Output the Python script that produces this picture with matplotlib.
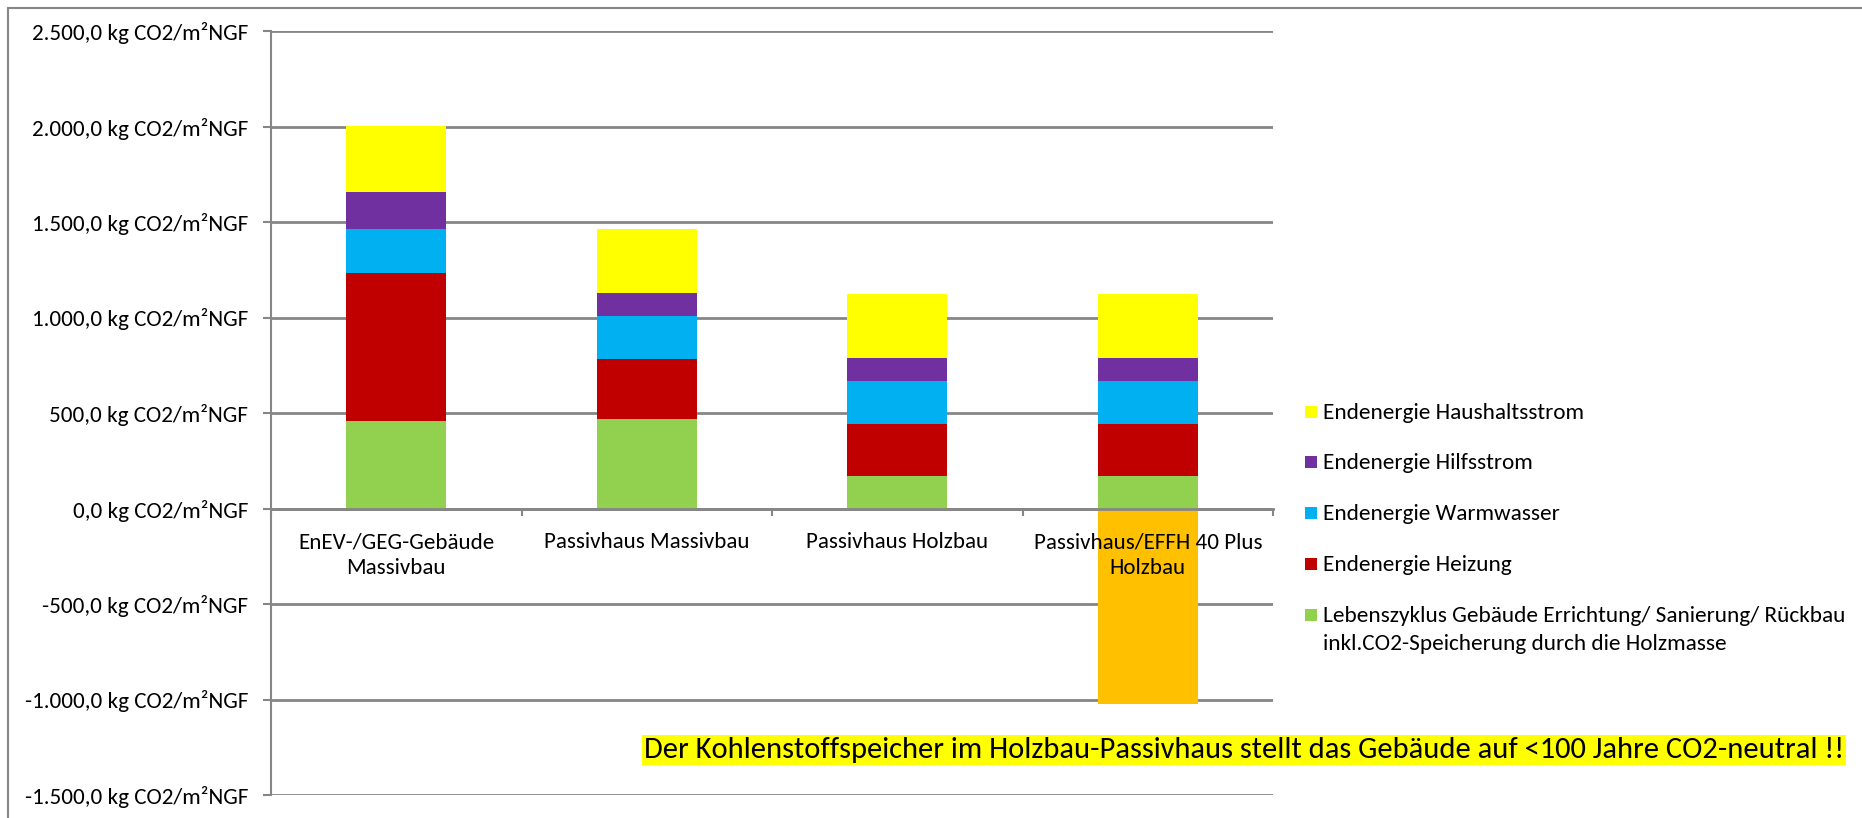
import matplotlib
matplotlib.use("Agg")
import matplotlib.pyplot as plt
from matplotlib import font_manager
from matplotlib.font_manager import FontProperties
from matplotlib.patches import Rectangle
import numpy as np

categories = ["EnEV-/GEG-Gebäude\nMassivbau", "Passivhaus Massivbau",
              "Passivhaus Holzbau", "Passivhaus/EFFH 40 Plus\nHolzbau"]
lebenszyklus = [458, 468, 168, 168]
heizung = [777, 314, 272, 272]
warmwasser = [230, 228, 228, 228]
hilfsstrom = [194, 120, 120, 120]
haushaltsstrom = [341, 335, 335, 335]
co2_speicher = [0, 0, 0, -1025]
series_names = ["Lebenszyklus Gebäude Errichtung/ Sanierung/ Rückbau\ninkl.CO2-Speicherung durch die Holzmasse",
                "Endenergie Heizung", "Endenergie Warmwasser",
                "Endenergie Hilfsstrom", "Endenergie Haushaltsstrom"]
yticks = [-1500, -1000, -500, 0, 500, 1000, 1500, 2000, 2500]
banner = "Der Kohlenstoffspeicher im Holzbau-Passivhaus stellt das Gebäude auf <100 Jahre CO2-neutral !!"

colors = ["#92D050", "#C00000", "#00B0F0", "#7030A0", "#FFFF00"]
orange = "#FFC000"
grey = "#868686"

avail = {f.name for f in font_manager.fontManager.ttflist}
def pick(*names):
    for n in names:
        if n in avail:
            return n
    return "DejaVu Sans"
base_font = pick("Carlito", "Lato", "Open Sans")

def fmt(v):
    s = f"{abs(v):,.1f}".replace(",", "X").replace(".", ",").replace("X", ".")
    return ("-" if v < 0 else "") + s + " kg CO2/m²NGF"

W, H = 1862, 818
fig = plt.figure(figsize=(W/100, H/100), dpi=100)
renderer = fig.canvas.get_renderer()

def metrics(s, size):
    return renderer.get_text_width_height_descent(s, FontProperties(family=base_font, size=size), ismath=False)

def fit(s, target_px):
    return 20.0 * target_px / metrics(s, 20.0)[0]

def linespacing_for(size, step_px):
    _, h, d = metrics("lp", size)
    return (step_px - d) / (h - d)

tick_size = fit(fmt(2500), 217)
cat_size = fit("Passivhaus Massivbau", 205)
leg_size = fit("Endenergie Haushaltsstrom", 260)
ban_size = fit(banner, 1198)

ax = fig.add_axes([271/W, 1-795/H, (1273-271)/W, (795-31)/H])

x = np.arange(len(categories))
stack = [lebenszyklus, heizung, warmwasser, hilfsstrom, haushaltsstrom]
bottom = np.zeros(len(categories))
for vals, c in zip(stack, colors):
    ax.bar(x, vals, width=0.4, bottom=bottom, color=c, zorder=3)
    bottom += np.array(vals)
ax.bar(x, co2_speicher, width=0.4, color=orange, zorder=3)

ax.set_xlim(-0.5, len(categories) - 0.5)
ax.set_ylim(yticks[0], yticks[-1])
ax.set_yticks(yticks)
ax.set_yticklabels([fmt(v) for v in yticks], fontfamily=base_font, fontsize=tick_size)
ax.yaxis.grid(True, color=grey, linewidth=2, zorder=1)
ax.tick_params(axis="y", direction="out", length=5.8, width=1.5, color=grey, pad=10.8)

ax.spines["top"].set_visible(False)
ax.spines["right"].set_visible(False)
ax.spines["left"].set_color(grey)
ax.spines["left"].set_linewidth(1.5)
ax.spines["bottom"].set_position(("data", 0))
ax.spines["bottom"].set_color(grey)
ax.spines["bottom"].set_linewidth(2)
ax.spines["bottom"].set_zorder(4)

ax.set_xticks(np.arange(len(categories) + 1) - 0.5)
ax.set_xticklabels([])
ax.tick_params(axis="x", which="major", direction="out", length=5, width=1.5, color=grey)

cat_step = 26
cat_ls = linespacing_for(cat_size, cat_step)
for xi, cat in zip(x, categories):
    n = cat.count("\n")
    ax.annotate(cat, xy=(xi, 0), xytext=(0, -(40 + cat_step * n)), textcoords="offset pixels",
                ha="center", va="baseline", fontfamily=base_font, fontsize=cat_size,
                linespacing=cat_ls, zorder=6, annotation_clip=False)

# legend (drawn manually to match entry spacing of the reference)
leg_step = 28
leg_ls = linespacing_for(leg_size, leg_step)
leg_baselines = [419, 469, 520, 571, 622]
for name, c, yb in zip(series_names[::-1], colors[::-1], leg_baselines):
    n = name.count("\n")
    fig.add_artist(Rectangle((1305/W, 1-(yb-1)/H), 12/W, 12/H, transform=fig.transFigure,
                             facecolor=c, edgecolor="none"))
    fig.text(1323/W, 1-(yb + leg_step * n)/H, name, ha="left", va="baseline",
             fontfamily=base_font, fontsize=leg_size, linespacing=leg_ls)

fig.text(644/W, 1-750/H, banner, ha="left", va="center",
         fontfamily=base_font, fontsize=ban_size,
         bbox=dict(facecolor="#FFFF00", edgecolor="none", pad=1))

fig.add_artist(Rectangle((8/W, -0.1), 1.2, 1-8/H+0.1, transform=fig.transFigure,
                         fill=False, edgecolor=grey, linewidth=1.5))

fig.savefig("out.png", dpi=100)
